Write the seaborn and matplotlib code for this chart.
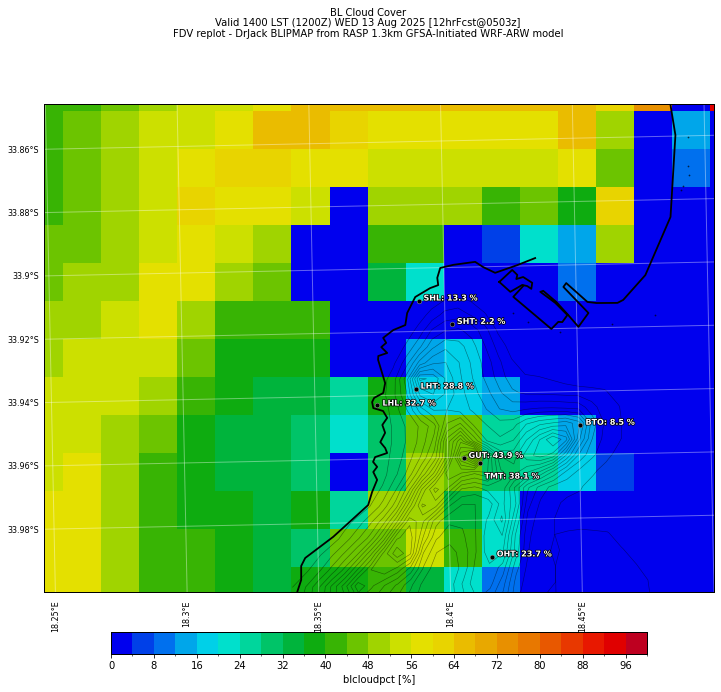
import numpy as np
import pandas as pd
import seaborn as sns
import matplotlib.pyplot as plt
import matplotlib.patheffects as pe
from matplotlib.colors import ListedColormap

# blcloudpct on the model grid, percent (north row first, west column first)
cloud_pct = [
    [42, 42, 46, 50, 54, 54, 58, 66, 66, 66, 66, 66, 66, 66, 66, 62, 74, 2, 94],
    [42, 46, 50, 54, 54, 58, 66, 66, 62, 58, 58, 58, 58, 58, 66, 50, 2, 14, 2],
    [42, 46, 50, 54, 58, 62, 62, 58, 58, 54, 54, 54, 54, 54, 58, 46, 2, 10, 2],
    [42, 46, 50, 54, 62, 58, 58, 54, 2, 50, 50, 50, 42, 46, 38, 62, 2, 2, 2],
    [46, 46, 50, 54, 58, 54, 50, 2, 2, 42, 42, 2, 6, 22, 14, 50, 2, 2, 2],
    [46, 50, 50, 58, 58, 50, 46, 2, 2, 34, 22, 2, 2, 2, 10, 2, 2, 2, 2],
    [50, 50, 54, 58, 50, 42, 42, 42, 2, 2, 2, 2, 2, 2, 2, 2, 2, 2, 2],
    [50, 54, 54, 54, 46, 38, 38, 38, 2, 2, 14, 18, 2, 2, 2, 2, 2, 2, 2],
    [54, 54, 54, 50, 42, 38, 34, 34, 26, 38, 18, 18, 14, 2, 2, 2, 2, 2, 2],
    [54, 54, 50, 46, 38, 34, 34, 30, 22, 30, 46, 46, 26, 22, 14, 2, 2, 2, 2],
    [54, 58, 50, 42, 38, 34, 34, 30, 2, 30, 50, 46, 30, 26, 18, 6, 2, 2, 2],
    [58, 58, 50, 42, 38, 38, 34, 38, 26, 50, 50, 34, 22, 2, 2, 2, 2, 2, 2],
    [58, 58, 50, 42, 42, 38, 34, 30, 46, 46, 54, 42, 22, 2, 2, 2, 2, 2, 2],
    [58, 58, 50, 42, 42, 38, 34, 38, 38, 42, 34, 22, 10, 2, 2, 2, 2, 2, 2],
]

level_colors = [
    "#0000ee", "#0040e8", "#0070ee", "#00a6ea", "#00d0e8", "#00e0cc", "#00d69c",
    "#00c468", "#00b43c", "#0eac10", "#38b404", "#6cc400", "#a0d400", "#cce000",
    "#e4e000", "#e8d400", "#eabc00", "#e8a800", "#e89000", "#e87800", "#e85800",
    "#e83800", "#e81800", "#e00000", "#be0020",
]
cbar_ticks = list(range(0, 100, 8))
cbar_minor = list(range(4, 104, 8))

title_lines = [
    "BL Cloud Cover",
    "Valid 1400 LST (1200Z) WED 13 Aug 2025 [12hrFcst@0503z]",
    "FDV replot - DrJack BLIPMAP from RASP 1.3km GFSA-Initiated WRF-ARW model",
]

grid_lats = [33.86, 33.88, 33.90, 33.92, 33.94, 33.96, 33.98]
grid_lons = [18.25, 18.30, 18.35, 18.40, 18.45, 18.50]
lat_labels = ["33.86°S", "33.88°S", "33.9°S", "33.92°S", "33.94°S", "33.96°S", "33.98°S"]
lon_labels = ["18.25°E", "18.3°E", "18.35°E", "18.4°E", "18.45°E"]

# stations, positions in degrees (south positive)
station_names = ["SHL", "SHT", "LHT", "LHL", "GUT", "TMT", "BTO", "OHT"]
station_pct = [13.3, 2.2, 28.8, 32.7, 43.9, 38.1, 8.5, 23.7]
station_lon = [18.3901, 18.4026, 18.3883, 18.3737, 18.4060, 18.4120, 18.4506, 18.4159]
station_lat = [33.9104, 33.9180, 33.9382, 33.9430, 33.9604, 33.9620, 33.9507, 33.9917]
label_offsets = [(5, 3), (5, 3), (5, 3), (5, 2), (5, 3), (5, -13), (5, 3), (5, 3)]

west_coast_lon = [18.3418, 18.3434, 18.3435, 18.3451, 18.3559, 18.3694, 18.3710, 18.3730, 18.3716,
                  18.3731, 18.3716, 18.3724, 18.3770, 18.3763, 18.3745, 18.3764, 18.3754, 18.3773,
                  18.3758, 18.3721, 18.3717, 18.3725, 18.3760, 18.3768, 18.3743, 18.3744, 18.3778,
                  18.3756, 18.3775, 18.3764, 18.3803, 18.3849, 18.3857, 18.3889, 18.3946, 18.3977,
                  18.3974, 18.3986, 18.4036, 18.4119, 18.4149, 18.4194, 18.4279, 18.4347]
west_coast_lat = [34.0015, 33.9977, 33.9933, 33.9908, 33.9843, 33.9745, 33.9704, 33.9666, 33.9641,
                  33.9625, 33.9609, 33.9594, 33.9582, 33.9566, 33.9547, 33.9518, 33.9493, 33.9471,
                  33.9449, 33.9439, 33.9420, 33.9407, 33.9392, 33.9361, 33.9287, 33.9275, 33.9266,
                  33.9247, 33.9234, 33.9218, 33.9194, 33.9179, 33.9141, 33.9091, 33.9064, 33.9055,
                  33.9032, 33.9001, 33.8992, 33.8984, 33.9001, 33.9020, 33.8997, 33.8976]

dock_lon = [18.4209, 18.4259, 18.4278, 18.4274, 18.4300, 18.4334, 18.4330, 18.4315, 18.4296, 18.4250, 18.4209]
dock_lat = [33.9049, 33.9012, 33.9028, 33.9041, 33.9035, 33.9054, 33.9073, 33.9064, 33.9060, 33.9081, 33.9049]

# harbour outline carrying on into the east coast
east_coast_lon = [18.4300, 18.4261, 18.4403, 18.4430, 18.4445, 18.4465, 18.4420, 18.4364, 18.4375, 18.4424,
                  18.4468, 18.4506, 18.4545, 18.4452, 18.4463, 18.4542, 18.4576, 18.4656, 18.4678, 18.4764,
                  18.4864, 18.4889, 18.4872]
east_coast_lat = [33.9063, 33.9097, 33.9201, 33.9179, 33.9180, 33.9158, 33.9119, 33.9083, 33.9080, 33.9116,
                  33.9158, 33.9196, 33.9153, 33.9069, 33.9057, 33.9118, 33.9122, 33.9123, 33.9114, 33.9037,
                  33.8855, 33.8597, 33.8498]

rock_lon = [18.4938, 18.4936, 18.4939, 18.4915, 18.4907, 18.4260, 18.4316, 18.4437, 18.4635, 18.4799]
rock_lat = [33.8604, 33.8696, 33.8724, 33.8758, 33.8771, 33.9148, 33.9178, 33.9211, 33.9190, 33.9164]

# terrain heights in m, read roughly from the contour spacing
terrain_lons = [18.340, 18.345, 18.350, 18.355, 18.360, 18.365, 18.370, 18.375, 18.380, 18.385, 18.390,
                18.395, 18.400, 18.405, 18.410, 18.415, 18.420, 18.425, 18.430, 18.435, 18.440, 18.445,
                18.450, 18.455, 18.460, 18.465, 18.470, 18.475, 18.480, 18.485, 18.490]
terrain_lats = [33.910, 33.915, 33.920, 33.925, 33.930, 33.935, 33.940, 33.945, 33.950, 33.955, 33.960,
                33.965, 33.970, 33.975, 33.980, 33.985, 33.990, 33.995, 34.000, 34.005]
terrain_m = [
    [0, 0, 0, 0, 0, 0, 0, 0, 0, 0, 0, 5, 18, 25, 15, 5, 0, 0, 0, 0, 0, 0, 0, 0, 0, 0, 0, 0, 0, 0, 0],
    [0, 0, 0, 0, 0, 0, 0, 0, 0, 0, 8, 30, 55, 60, 42, 22, 5, 0, 0, 0, 0, 0, 0, 0, 0, 0, 0, 0, 0, 0, 0],
    [0, 0, 0, 0, 0, 0, 0, 0, 0, 5, 30, 75, 95, 100, 85, 55, 15, 0, 0, 0, 0, 0, 0, 0, 0, 0, 0, 0, 0, 0, 0],
    [0, 0, 0, 0, 0, 0, 0, 0, 0, 25, 65, 115, 140, 130, 105, 70, 35, 8, 0, 0, 0, 0, 0, 0, 0, 0, 0, 0, 0, 0, 0],
    [0, 0, 0, 0, 0, 0, 0, 0, 15, 60, 130, 165, 170, 145, 115, 85, 50, 22, 8, 0, 0, 0, 0, 0, 0, 0, 0, 0, 0, 0, 0],
    [0, 0, 0, 0, 0, 0, 0, 5, 35, 110, 250, 240, 190, 150, 120, 90, 60, 30, 22, 20, 15, 8, 0, 0, 0, 0, 0, 0, 0, 0, 0],
    [0, 0, 0, 0, 0, 0, 0, 8, 40, 95, 200, 220, 190, 155, 130, 105, 75, 50, 40, 38, 35, 32, 30, 26, 22, 8, 0, 0, 0, 0, 0],
    [0, 0, 0, 0, 0, 0, 0, 5, 30, 70, 130, 170, 170, 160, 140, 120, 95, 85, 90, 95, 95, 90, 85, 55, 30, 22, 5, 0, 0, 0, 0],
    [0, 0, 0, 0, 0, 0, 0, 3, 25, 50, 75, 110, 200, 230, 170, 145, 130, 135, 170, 190, 200, 210, 180, 85, 40, 24, 8, 0, 0, 0, 0],
    [0, 0, 0, 0, 0, 0, 0, 5, 25, 50, 80, 130, 260, 340, 240, 170, 150, 170, 220, 270, 320, 280, 150, 70, 35, 24, 6, 0, 0, 0, 0],
    [0, 0, 0, 0, 0, 0, 0, 8, 30, 60, 100, 160, 260, 420, 520, 330, 220, 210, 260, 280, 260, 170, 90, 50, 28, 12, 0, 0, 0, 0, 0],
    [0, 0, 0, 0, 0, 0, 0, 10, 40, 80, 150, 230, 340, 320, 300, 320, 250, 230, 200, 170, 120, 70, 40, 24, 12, 0, 0, 0, 0, 0, 0],
    [0, 0, 0, 0, 0, 0, 5, 25, 70, 140, 250, 330, 290, 220, 210, 230, 240, 170, 100, 60, 35, 24, 22, 12, 5, 0, 0, 0, 0, 0, 0],
    [0, 0, 0, 0, 0, 0, 20, 55, 110, 210, 300, 280, 200, 170, 170, 180, 230, 180, 80, 40, 22, 18, 15, 8, 0, 0, 0, 0, 0, 0, 0],
    [0, 0, 0, 0, 8, 30, 65, 110, 190, 290, 250, 180, 150, 150, 170, 200, 250, 150, 60, 30, 20, 12, 8, 0, 0, 0, 0, 0, 0, 0, 0],
    [0, 0, 0, 5, 30, 65, 105, 180, 290, 310, 220, 150, 130, 140, 170, 210, 220, 120, 50, 25, 20, 22, 25, 25, 22, 8, 0, 0, 0, 0, 0],
    [0, 0, 15, 40, 75, 120, 190, 280, 340, 300, 170, 120, 110, 130, 170, 210, 200, 110, 45, 24, 18, 24, 32, 34, 30, 22, 10, 0, 0, 0, 0],
    [0, 15, 40, 80, 130, 200, 270, 290, 260, 210, 140, 100, 100, 130, 180, 190, 160, 80, 35, 22, 20, 24, 34, 38, 32, 25, 22, 10, 0, 0, 0],
    [20, 45, 90, 150, 210, 290, 250, 220, 190, 150, 110, 100, 110, 150, 190, 180, 130, 60, 30, 22, 20, 24, 28, 30, 28, 26, 24, 20, 5, 0, 0],
    [25, 55, 100, 160, 190, 240, 220, 190, 160, 130, 100, 90, 110, 140, 170, 150, 110, 50, 25, 20, 20, 22, 24, 25, 25, 25, 24, 22, 8, 0, 0],
]
contour_levels = list(range(20, 540, 25))


def to_cell(lon, lat):
    # the map is a little rotated against the model grid
    dlon = np.asarray(lon) - 18.30
    dlat = np.asarray(lat) - 33.90
    return 4.087 + 69.18 * dlon + 1.708 * dlat, 5.266 - 1.447 * dlon + 83.3 * dlat


fig = plt.figure(figsize=(721.01 / 72, 692.01 / 72), dpi=72)
ax = fig.add_axes([44 / 721, 100 / 692, 670 / 721, 488 / 692])
cax = fig.add_axes([111 / 721, 38 / 692, 536 / 721, 22 / 692])

sns.heatmap(pd.DataFrame(cloud_pct), ax=ax, cbar_ax=cax, cmap=ListedColormap(level_colors),
            vmin=0, vmax=100, xticklabels=False, yticklabels=False,
            cbar_kws={"orientation": "horizontal"})

# terrain contours
lon_mesh, lat_mesh = np.meshgrid(terrain_lons, terrain_lats)
cx, cy = to_cell(lon_mesh, lat_mesh)
ax.contour(cx, cy, np.array(terrain_m), levels=contour_levels, colors="k", linewidths=0.6, alpha=0.45)

# graticule
lon_span = np.array([18.22, 18.54])
lat_span = np.array([33.83, 34.03])
for lat in grid_lats:
    ax.plot(*to_cell(lon_span, [lat, lat]), color="white", lw=1, alpha=0.38)
for lon in grid_lons:
    ax.plot(*to_cell([lon, lon], lat_span), color="white", lw=1, alpha=0.38)

# coast and harbour
ax.plot(*to_cell(west_coast_lon, west_coast_lat), color="k", lw=1.8)
ax.plot(*to_cell(dock_lon, dock_lat), color="k", lw=1.8)
ax.plot(*to_cell(east_coast_lon, east_coast_lat), color="k", lw=1.8)
rx, ry = to_cell(rock_lon, rock_lat)
ax.scatter(rx, ry, s=3, color="k", alpha=0.7, linewidths=0)

# stations
sx, sy = to_cell(station_lon, station_lat)
ax.scatter(sx, sy, s=22, color="k", edgecolors="#999999", linewidths=0.5, zorder=5)
for name, pct, x, y, off in zip(station_names, station_pct, sx, sy, label_offsets):
    ax.annotate(f"{name}: {pct} %", (x, y), xytext=off, textcoords="offset points", va="center",
                fontsize=8, color="white", fontweight="bold", zorder=6,
                path_effects=[pe.withStroke(linewidth=1.5, foreground="k")])

ax.set_xlim(0.5, 18.10)
ax.set_ylim(13.66, 0.816)

# lat/lon labels sit where the graticule meets the frame
ax.set_yticks(to_cell(18.2483, np.array(grid_lats))[1])
ax.set_yticklabels(lat_labels, rotation=0, fontsize=8)
ax.set_xticks(to_cell(np.array(grid_lons[:5]), 34.0015)[0])
ax.set_xticklabels(lon_labels, rotation=90, fontsize=8)
ax.tick_params(axis="x", length=0, pad=8)
ax.tick_params(axis="y", length=0, pad=5)
for spine in ax.spines.values():
    spine.set_visible(True)
    spine.set_linewidth(1)
    spine.set_color("k")

cax.set_xticks(cbar_ticks)
cax.set_xticklabels([str(t) for t in cbar_ticks], fontsize=10)
cax.set_xticks(cbar_minor, minor=True)
cax.tick_params(axis="x", which="major", length=3.5)
cax.tick_params(axis="x", which="minor", length=2)
cax.set_xlabel("blcloudpct [%]", fontsize=10)
for spine in cax.spines.values():
    spine.set_visible(True)
    spine.set_linewidth(1)
    spine.set_color("k")

fig.text(368 / 721, 1 - 7.5 / 692, "\n".join(title_lines), ha="center", va="top", fontsize=10, linespacing=1.1)

fig.savefig("out.png", dpi=72)
